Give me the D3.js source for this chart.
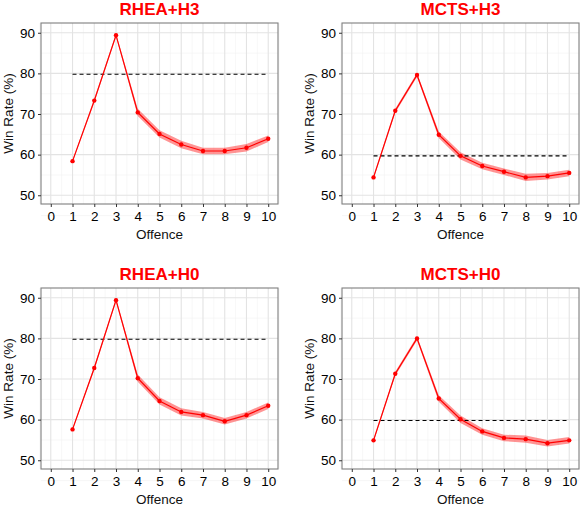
<!DOCTYPE html>
<html lang="en">
<head>
  <meta charset="UTF-8">
  <title>Win Rate by Offence</title>
  <script src="https://d3js.org/d3.v7.min.js"></script>
  <style>
    body { margin: 0; background: white; }
    svg { font-family: "Liberation Sans", Arial, sans-serif; display: block; }
  </style>
</head>
<body>
<svg width="580" height="508"></svg>

<script>
  // Data
  const titles = ["RHEA+H3", "MCTS+H3", "RHEA+H0", "MCTS+H0"];
  const offence = [1, 2, 3, 4, 5, 6, 7, 8, 9, 10];
  const xTicks = [0, 1, 2, 3, 4, 5, 6, 7, 8, 9, 10];
  const yTicks = [50, 60, 70, 80, 90];

  const rheaH3 = [58.4, 73.3, 89.4, 70.4, 65.1, 62.5, 60.9, 60.9, 61.7, 63.9];
  const mctsH3 = [54.4, 70.8, 79.6, 64.9, 59.7, 57.2, 55.8, 54.4, 54.7, 55.5];
  const rheaH0 = [57.6, 72.7, 89.4, 70.2, 64.6, 61.9, 61.1, 59.6, 61.1, 63.4];
  const mctsH0 = [54.9, 71.3, 80.0, 65.2, 60.1, 57.1, 55.5, 55.2, 54.2, 54.9];

  // half-width of the shaded band
  const bandH3R = [0.3, 0.5, 0.4, 0.9, 0.9, 0.9, 0.8, 0.8, 0.9, 0.8];
  const bandH3M = [0.4, 0.5, 0.5, 0.8, 0.9, 0.8, 0.8, 0.9, 0.8, 0.8];
  const bandH0R = [0.3, 0.5, 0.4, 0.9, 0.9, 0.9, 0.8, 0.8, 0.8, 0.8];
  const bandH0M = [0.4, 0.5, 0.5, 0.8, 0.9, 0.8, 0.8, 0.9, 0.8, 0.8];

  const baselines = [79.8, 59.7, 79.8, 59.8];

  const series = [rheaH3, mctsH3, rheaH0, mctsH0];
  const bands = [bandH3R, bandH3M, bandH0R, bandH0M];

  const svg = d3.select("svg");

  // panel boxes (left, top) ; size shared
  const panels = [
    {x: 41, y: 23}, {x: 342, y: 23},
    {x: 41, y: 288}, {x: 342, y: 288}
  ];
  const pw = 237, ph = 181;

  const x = d3.scaleLinear().domain([-0.45, 10.45]).range([0, pw]);
  const y = d3.scaleLinear().domain([47.85, 92.4]).range([ph, 0]);

  panels.forEach((p, i) => {
    const g = svg.append("g").attr("transform", `translate(${p.x},${p.y})`);
    const vals = series[i];
    const band = bands[i];
    const data = offence.map((o, k) => ({x: o, y: vals[k], lo: vals[k] - band[k], hi: vals[k] + band[k]}));

    // grid
    const minorX = d3.range(-0.5, 10.6, 1);
    const minorY = d3.range(45, 95, 10);
    g.selectAll(".mx").data(minorX).join("line")
      .attr("x1", d => x(d)).attr("x2", d => x(d))
      .attr("y1", 0).attr("y2", ph)
      .attr("stroke", "#f2f2f2").attr("stroke-width", 0.6);
    g.selectAll(".my").data(minorY).join("line")
      .attr("x1", 0).attr("x2", pw)
      .attr("y1", d => y(d)).attr("y2", d => y(d))
      .attr("stroke", "#f2f2f2").attr("stroke-width", 0.6);
    g.selectAll(".gx").data(xTicks).join("line")
      .attr("x1", d => x(d)).attr("x2", d => x(d))
      .attr("y1", 0).attr("y2", ph)
      .attr("stroke", "#e3e3e3").attr("stroke-width", 1.1);
    g.selectAll(".gy").data(yTicks).join("line")
      .attr("x1", 0).attr("x2", pw)
      .attr("y1", d => y(d)).attr("y2", d => y(d))
      .attr("stroke", "#e3e3e3").attr("stroke-width", 1.1);

    // ribbon
    g.append("path").datum(data)
      .attr("fill", "#ff0000").attr("fill-opacity", 0.42)
      .attr("d", d3.area().x(d => x(d.x)).y0(d => y(d.lo)).y1(d => y(d.hi)));

    // reference line
    g.append("line")
      .attr("x1", x(1)).attr("x2", x(10))
      .attr("y1", y(baselines[i])).attr("y2", y(baselines[i]))
      .attr("stroke", "#000").attr("stroke-width", 1.1)
      .attr("stroke-dasharray", "4,3");

    // line + points
    g.append("path").datum(data)
      .attr("fill", "none").attr("stroke", "#ff0000").attr("stroke-width", 1.2)
      .attr("d", d3.line().x(d => x(d.x)).y(d => y(d.y)));
    g.selectAll("circle").data(data).join("circle")
      .attr("cx", d => x(d.x)).attr("cy", d => y(d.y))
      .attr("r", 2.2).attr("fill", "#ff0000");

    // border
    g.append("rect").attr("width", pw).attr("height", ph)
      .attr("fill", "none").attr("stroke", "#7f7f7f").attr("stroke-width", 1.1);

    // axes
    const ax = g.append("g").attr("transform", `translate(0,${ph})`)
      .call(d3.axisBottom(x).tickValues(xTicks).tickSize(3).tickPadding(4).tickFormat(d3.format("d")));
    const ay = g.append("g")
      .call(d3.axisLeft(y).tickValues(yTicks).tickSize(3).tickPadding(3));
    [ax, ay].forEach(a => {
      a.select(".domain").remove();
      a.selectAll(".tick line").attr("stroke", "#333");
      a.selectAll("text").attr("fill", "#000")
        .style("font-size", "13.5px")
        .style("font-family", '"Liberation Sans", Arial, sans-serif');
    });

    // titles
    g.append("text")
      .attr("x", pw / 2).attr("y", -8)
      .attr("text-anchor", "middle")
      .attr("fill", "#ff0000")
      .style("font-size", "17px").style("font-weight", "bold")
      .text(titles[i]);
    g.append("text")
      .attr("x", pw / 2).attr("y", ph + 35)
      .attr("text-anchor", "middle")
      .attr("fill", "#111")
      .style("font-size", "13.5px")
      .text("Offence");
    g.append("text")
      .attr("transform", `translate(${-28},${ph / 2}) rotate(-90)`)
      .attr("text-anchor", "middle")
      .attr("fill", "#111")
      .style("font-size", "13.5px")
      .text("Win Rate (%)");
  });
</script>
</body>
</html>
